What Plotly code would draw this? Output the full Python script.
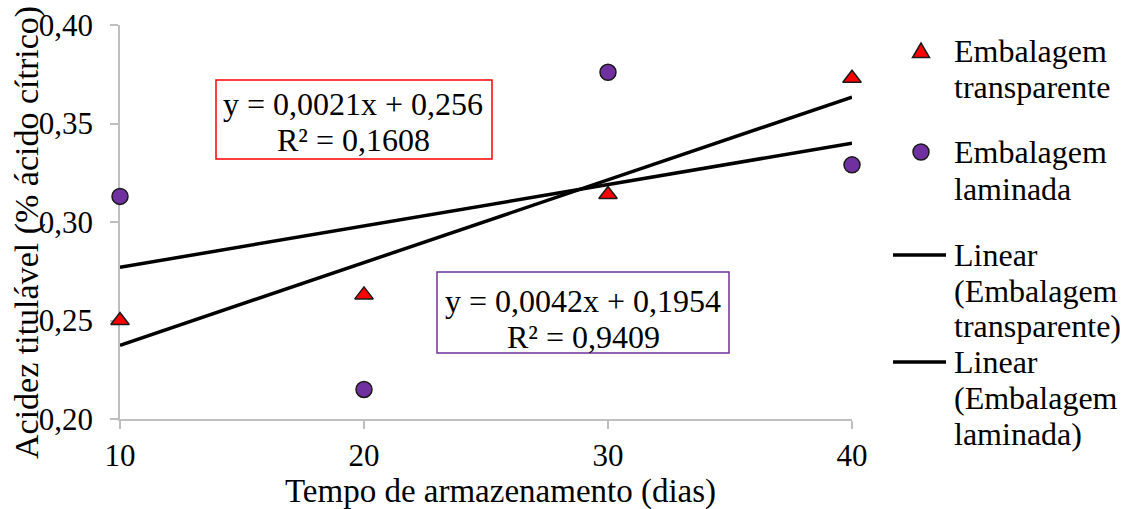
import plotly.graph_objects as go

# Storage time (days) and titratable acidity for each packaging type
dias = [10, 20, 30, 40]
acidez_transparente = [0.250, 0.263, 0.314, 0.373]
acidez_laminada = [0.313, 0.215, 0.376, 0.329]

# Fitted linear trends (slope, intercept, R²) as reported on the chart
tend_transparente = (0.0042, 0.1954, 0.9409)
tend_laminada = (0.0021, 0.256, 0.1608)

y_ticks = [0.20, 0.25, 0.30, 0.35, 0.40]
y_tick_text = ["0,20", "0,25", "0,30", "0,35", "0,40"]
x_ticks = [10, 20, 30, 40]

legenda_textos = [
    ["Embalagem", "transparente"],
    ["Embalagem", "laminada"],
    ["Linear", "(Embalagem", "transparente)"],
    ["Linear", "(Embalagem", "laminada)"],
]

FONT = "Liberation Serif"
VERMELHO = "#FF0000"
ROXO = "#7030A0"
EIXO = "#BFBFBF"
CONTORNO = "#1a1a1a"

# Figure geometry (pixels)
W, H = 1125, 509
ML, MR, MT, MB = 120, 273, 25, 90
PW, PH = W - ML - MR, H - MT - MB


def px(xp):
    """Horizontal pixel -> paper fraction."""
    return (xp - ML) / PW


def py(yp):
    """Vertical pixel (from top) -> paper fraction."""
    return (H - MB - yp) / PH


def reta(coef, xs):
    a, b, _ = coef
    return [a * x + b for x in xs]


def fmt(v, casas):
    return f"{v:.{casas}f}".replace(".", ",")


x_reta = [dias[0], dias[-1]]

fig = go.Figure()
fig.add_trace(go.Scatter(
    x=dias, y=acidez_transparente, mode="markers",
    name="Embalagem transparente",
    marker=dict(symbol="triangle-up", size=16, color=VERMELHO,
                line=dict(color=CONTORNO, width=1.5)),
    cliponaxis=False,
))
fig.add_trace(go.Scatter(
    x=dias, y=acidez_laminada, mode="markers",
    name="Embalagem laminada",
    marker=dict(symbol="circle", size=16, color=ROXO,
                line=dict(color=CONTORNO, width=1.5)),
    cliponaxis=False,
))
fig.add_trace(go.Scatter(
    x=x_reta, y=reta(tend_transparente, x_reta), mode="lines",
    name="Linear (Embalagem transparente)",
    line=dict(color="black", width=3.5),
))
fig.add_trace(go.Scatter(
    x=x_reta, y=reta(tend_laminada, x_reta), mode="lines",
    name="Linear (Embalagem laminada)",
    line=dict(color="black", width=3.5),
))

# Trend-line equation boxes: frame + one text line per annotation
eq_lam = [f"y = {fmt(tend_laminada[0], 4)}x + {fmt(tend_laminada[1], 3)}",
          f"R² = {fmt(tend_laminada[2], 4)}"]
eq_tra = [f"y = {fmt(tend_transparente[0], 4)}x + {fmt(tend_transparente[1], 4)}",
          f"R² = {fmt(tend_transparente[2], 4)}"]

caixas = [
    (eq_lam, VERMELHO, (216, 80, 492, 159), 353, (104, 140)),
    (eq_tra, ROXO, (437, 272, 729, 353), 583, (301, 337)),
]
for linhas, cor, (x0, y0, x1, y1), xc, ycs in caixas:
    fig.add_shape(type="rect", xref="paper", yref="paper",
                  x0=px(x0), x1=px(x1), y0=py(y1), y1=py(y0),
                  line=dict(color=cor, width=1.5), fillcolor="white", layer="above")
    for texto, yc in zip(linhas, ycs):
        fig.add_annotation(text=texto, xref="paper", yref="paper",
                           x=px(xc), y=py(yc), xanchor="center", yanchor="middle",
                           showarrow=False, font=dict(family=FONT, size=32, color="black"))

# Axis titles
fig.add_annotation(
    text="Acidez titulável (% ácido cítrico)", xref="paper", yref="paper",
    x=px(27), y=py(233), xanchor="center", yanchor="middle", textangle=-90,
    showarrow=False, font=dict(family=FONT, size=34, color="black"),
)
fig.add_annotation(
    text="Tempo de armazenamento (dias)", xref="paper", yref="paper",
    x=px(500), y=py(491), xanchor="center", yanchor="middle",
    showarrow=False, font=dict(family=FONT, size=33, color="black"),
)

# Legend drawn beside the plot: symbol + stacked text lines
leg_x_texto = 952
leg_x_simb = 921
leg_linhas_y = [[51, 87], [152, 189], [255, 291, 326], [362, 398, 434]]
for i, (linhas, ys) in enumerate(zip(legenda_textos, leg_linhas_y)):
    for texto, yc in zip(linhas, ys):
        fig.add_annotation(text=texto, xref="paper", yref="paper",
                           x=px(leg_x_texto), y=py(yc), xanchor="left", yanchor="middle",
                           showarrow=False, font=dict(family=FONT, size=32, color="black"))
    ys0 = py(ys[0])
    if i == 0:
        fig.add_shape(type="path", xref="paper", yref="paper",
                      xsizemode="pixel", ysizemode="pixel",
                      xanchor=px(leg_x_simb), yanchor=ys0,
                      path="M-8.5,-6.5 L8.5,-6.5 L0,8 Z",
                      fillcolor=VERMELHO, line=dict(color=CONTORNO, width=1.5))
    elif i == 1:
        fig.add_shape(type="circle", xref="paper", yref="paper",
                      xsizemode="pixel", ysizemode="pixel",
                      xanchor=px(leg_x_simb), yanchor=ys0,
                      x0=-8, x1=8, y0=-8, y1=8,
                      fillcolor=ROXO, line=dict(color=CONTORNO, width=1.5))
    else:
        fig.add_shape(type="line", xref="paper", yref="paper",
                      x0=px(893), x1=px(946), y0=ys0, y1=ys0,
                      line=dict(color="black", width=3.5))

fig.update_layout(
    width=W, height=H,
    margin=dict(l=ML, r=MR, t=MT, b=MB, autoexpand=False),
    paper_bgcolor="white", plot_bgcolor="white",
    font=dict(family=FONT, size=31, color="black"),
    showlegend=False,
)
fig.update_xaxes(
    range=[10, 40], tickvals=x_ticks, showgrid=False, zeroline=False,
    showline=True, linecolor=EIXO, linewidth=1.5, layer="below traces",
    ticks="outside", ticklen=8, tickcolor=EIXO, tickwidth=1.5,
    tickfont=dict(family=FONT, size=31), ticklabelstandoff=0,
    automargin=False,
)
fig.update_yaxes(
    range=[0.20, 0.40], tickvals=y_ticks, ticktext=y_tick_text,
    showgrid=False, zeroline=False, layer="below traces",
    showline=True, linecolor=EIXO, linewidth=1.5,
    ticks="outside", ticklen=8, tickcolor=EIXO, tickwidth=1.5,
    tickfont=dict(family=FONT, size=31), ticklabelstandoff=11,
    automargin=False,
)

fig.write_html("out.html")
